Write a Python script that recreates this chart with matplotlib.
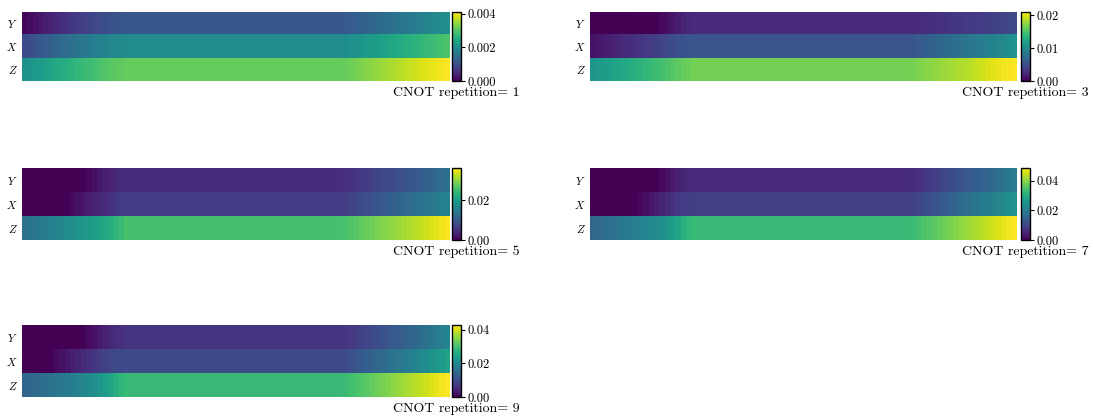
import numpy as np
import matplotlib
matplotlib.use("Agg")
import matplotlib.pyplot as plt

plt.rcParams['font.family'] = 'cmr10'
plt.rcParams['mathtext.fontset'] = 'cm'
plt.rcParams['axes.unicode_minus'] = False

# values, in units of 1e-3
# each row: left ramp (19 cols) + flat part (41 cols) + right ramp (20 cols)
rows = ['$Y$', '$X$', '$Z$']

r1_y = [0.06, 0.13, 0.20, 0.27, 0.34, 0.41, 0.48, 0.54, 0.60, 0.66, 0.72, 0.78, 0.83, 0.88, 0.93, 0.98, 1.02, 1.06, 1.09] + [1.12] * 41 + \
       [1.14, 1.18, 1.22, 1.27, 1.31, 1.36, 1.40, 1.45, 1.50, 1.54, 1.59, 1.64, 1.68, 1.73, 1.78, 1.83, 1.88, 1.93, 1.98, 2.04]
r1_x = [0.92, 0.99, 1.06, 1.13, 1.20, 1.27, 1.34, 1.40, 1.46, 1.52, 1.58, 1.64, 1.70, 1.75, 1.80, 1.85, 1.89, 1.92, 1.95] + [1.98] * 41 + \
       [2.00, 2.05, 2.10, 2.15, 2.20, 2.25, 2.30, 2.35, 2.40, 2.45, 2.50, 2.55, 2.60, 2.65, 2.70, 2.75, 2.80, 2.85, 2.90, 2.95]
r1_z = [2.06, 2.13, 2.20, 2.27, 2.34, 2.41, 2.47, 2.53, 2.59, 2.65, 2.71, 2.77, 2.83, 2.88, 2.93, 2.98, 3.03, 3.07, 3.10] + [3.13] * 41 + \
       [3.15, 3.20, 3.25, 3.30, 3.35, 3.40, 3.45, 3.50, 3.55, 3.60, 3.65, 3.70, 3.75, 3.80, 3.85, 3.90, 3.95, 4.00, 4.05, 4.10]

r3_y = [0.05, 0.05, 0.06, 0.06, 0.07, 0.07, 0.08, 0.08, 0.09, 0.10, 0.10, 0.12, 0.15, 0.50, 0.90, 1.30, 1.70, 2.05, 2.35] + [2.5] * 41 + \
       [2.55, 2.62, 2.70, 2.80, 2.90, 3.00, 3.10, 3.20, 3.30, 3.40, 3.50, 3.60, 3.70, 3.80, 3.90, 4.00, 4.15, 4.30, 4.45, 4.60]
r3_x = [1.0, 1.25, 1.5, 1.75, 2.0, 2.25, 2.5, 2.75, 3.0, 3.25, 3.5, 3.75, 4.0, 4.3, 4.6, 4.9, 5.1, 5.3, 5.45] + [5.55] * 41 + \
       [5.65, 5.9, 6.15, 6.4, 6.65, 6.9, 7.15, 7.4, 7.65, 7.9, 8.15, 8.4, 8.65, 8.9, 9.15, 9.4, 9.7, 10.0, 10.3, 10.6]
r3_z = [10.9, 11.2, 11.5, 11.8, 12.1, 12.4, 12.7, 13.0, 13.3, 13.6, 13.9, 14.2, 14.5, 14.8, 15.1, 15.4, 15.7, 16.0, 16.3] + [16.6] * 41 + \
       [16.7, 16.9, 17.1, 17.3, 17.5, 17.7, 17.9, 18.1, 18.3, 18.5, 18.7, 18.9, 19.2, 19.5, 19.8, 20.1, 20.4, 20.6, 20.8, 21.0]

r5_y = [0.1, 0.1, 0.1, 0.1, 0.1, 0.1, 0.1, 0.1, 0.1, 0.1, 0.1, 0.2, 0.9, 1.6, 2.3, 3.0, 3.6, 4.1, 4.5] + [4.7] * 41 + \
       [4.8, 5.2, 5.6, 6.0, 6.4, 6.8, 7.2, 7.6, 8.0, 8.4, 8.8, 9.2, 9.6, 10.0, 10.5, 11.0, 11.5, 12.0, 12.6, 13.3]
r5_x = [0.1, 0.1, 0.1, 0.1, 0.1, 0.1, 0.1, 0.1, 0.4, 1.0, 1.6, 2.2, 2.8, 3.4, 4.0, 4.6, 5.2, 5.8, 6.2] + [6.5] * 41 + \
       [6.6, 7.1, 7.6, 8.1, 8.6, 9.1, 9.6, 10.1, 10.6, 11.1, 11.6, 12.1, 12.6, 13.1, 13.6, 14.1, 14.6, 15.1, 15.6, 16.1]
r5_z = [13.3, 13.8, 14.3, 14.8, 15.3, 15.8, 16.3, 16.8, 17.3, 17.8, 18.3, 18.8, 19.4, 20.0, 20.7, 21.5, 22.5, 23.5, 24.5] + [25.5] * 41 + \
       [25.7, 26.2, 26.7, 27.2, 27.7, 28.2, 28.7, 29.2, 29.7, 30.2, 30.7, 31.2, 31.7, 32.2, 32.7, 33.3, 33.9, 34.5, 35.2, 36.0]

r7_y = [0.1, 0.1, 0.1, 0.1, 0.1, 0.1, 0.1, 0.1, 0.1, 0.1, 0.1, 0.1, 0.3, 1.3, 2.3, 3.3, 4.3, 5.1, 5.7] + [6.0] * 41 + \
       [6.1, 6.8, 7.5, 8.2, 8.9, 9.6, 10.3, 11.0, 11.7, 12.4, 13.1, 13.8, 14.5, 15.2, 16.0, 16.8, 17.7, 18.6, 19.6, 20.6]
r7_x = [0.1, 0.1, 0.1, 0.1, 0.1, 0.1, 0.1, 0.1, 0.1, 1.0, 2.0, 3.0, 4.0, 5.0, 6.0, 7.0, 8.0, 8.7, 9.1] + [9.3] * 41 + \
       [9.4, 10.2, 11.0, 11.8, 12.6, 13.4, 14.2, 15.0, 15.8, 16.6, 17.4, 18.2, 19.0, 19.8, 20.6, 21.4, 22.2, 23.0, 23.8, 24.6]
r7_z = [16.0, 16.6, 17.2, 17.8, 18.4, 19.0, 19.6, 20.2, 20.8, 21.4, 22.0, 22.6, 23.3, 24.2, 25.5, 27.0, 28.8, 30.6, 32.2] + [33.0] * 41 + \
       [33.2, 34.0, 34.8, 35.6, 36.4, 37.2, 38.0, 38.8, 39.6, 40.4, 41.2, 42.0, 42.8, 43.6, 44.4, 45.2, 46.0, 46.8, 47.7, 48.6]

r9_y = [0.1, 0.1, 0.1, 0.1, 0.1, 0.1, 0.1, 0.1, 0.1, 0.1, 0.1, 0.3, 1.2, 2.1, 3.0, 3.9, 4.8, 5.5, 6.0] + [6.4] * 41 + \
       [6.5, 7.1, 7.7, 8.3, 8.9, 9.5, 10.1, 10.7, 11.3, 11.9, 12.5, 13.1, 13.8, 14.5, 15.2, 15.9, 16.7, 17.5, 18.4, 19.3]
r9_x = [0.1, 0.1, 0.1, 0.1, 0.1, 0.3, 1.2, 2.0, 2.8, 3.6, 4.4, 5.2, 6.0, 6.8, 7.6, 8.3, 8.9, 9.4, 9.7] + [9.9] * 41 + \
       [10.0, 10.7, 11.4, 12.1, 12.8, 13.5, 14.2, 14.9, 15.6, 16.3, 17.0, 17.7, 18.5, 19.3, 20.1, 20.9, 21.8, 22.7, 23.7, 24.7]
r9_z = [13.8, 14.3, 14.8, 15.3, 15.8, 16.3, 16.8, 17.3, 17.8, 18.4, 19.0, 19.6, 20.3, 21.2, 22.3, 23.6, 25.1, 26.7, 28.2] + [29.0] * 41 + \
       [29.2, 29.9, 30.6, 31.3, 32.0, 32.7, 33.4, 34.1, 34.8, 35.5, 36.2, 36.9, 37.6, 38.3, 39.0, 39.7, 40.5, 41.3, 42.1, 42.9]

reps = [1, 3, 5, 7, 9]
panels = [[r1_y, r1_x, r1_z], [r3_y, r3_x, r3_z], [r5_y, r5_x, r5_z],
          [r7_y, r7_x, r7_z], [r9_y, r9_x, r9_z]]
cbar_ticks = [[0, 0.002, 0.004], [0, 0.01, 0.02], [0, 0.02], [0, 0.02, 0.04], [0, 0.02, 0.04]]
cbar_labels = [['0.000', '0.002', '0.004'], ['0.00', '0.01', '0.02'], ['0.00', '0.02'],
               ['0.00', '0.02', '0.04'], ['0.00', '0.02', '0.04']]

W, H = 1093, 418
fig = plt.figure(figsize=(W / 100, H / 100), dpi=100)

# pixel boxes (x0, x1, ytop, ybottom) for heatmaps
lefts = [(22, 450), (590, 1017)]
cb_x = [(452, 461), (1021, 1030)]
tops = [(12, 81), (168, 240), (325, 397)]

for i, (rep, data) in enumerate(zip(reps, panels)):
    col = i % 2
    row = i // 2
    x0, x1 = lefts[col]
    yt, yb = tops[row]
    ax = fig.add_axes([x0 / W, 1 - yb / H, (x1 - x0) / W, (yb - yt) / H])
    arr = np.array(data) * 1e-3
    im = ax.imshow(arr, aspect='auto', cmap='viridis', vmin=0, vmax=arr.max(),
                   interpolation='nearest')
    for s in ax.spines.values():
        s.set_visible(False)
    ax.set_xticks([])
    ax.set_yticks(range(3))
    ax.set_yticklabels(rows, fontsize=8)
    ax.tick_params(axis='y', length=0, pad=3)

    cx0, cx1 = cb_x[col]
    cax = fig.add_axes([cx0 / W, 1 - yb / H, (cx1 - cx0) / W, (yb - yt) / H])
    cb = fig.colorbar(im, cax=cax)
    cb.set_ticks(cbar_ticks[i], labels=cbar_labels[i])
    cb.outline.set_linewidth(1.0)
    cax.tick_params(labelsize=9, length=3, width=0.8, pad=2)
    cax.set_xlabel('CNOT repetition= %d' % rep, fontsize=10, labelpad=4)

plt.savefig('out.png', dpi=100)
